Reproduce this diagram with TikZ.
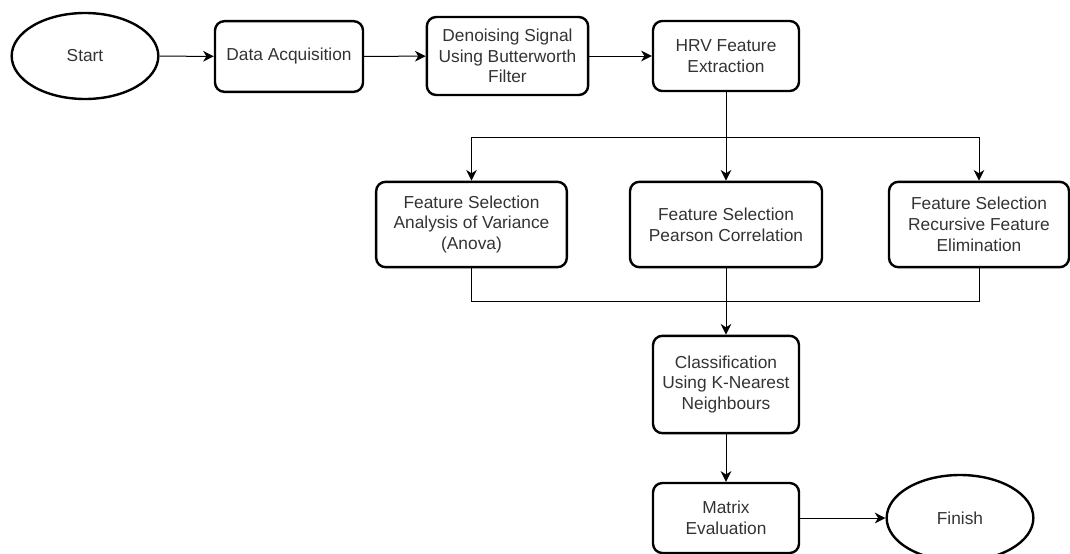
\documentclass[tikz,border=0pt]{standalone}
\usepackage{fontspec}
\setmainfont{Liberation Sans}
\usetikzlibrary{shapes.geometric,arrows.meta}
\definecolor{txtgray}{RGB}{51,51,51}

\tikzset{
	stepbox/.style={rectangle, rounded corners=7pt, draw, line width=1.8pt, align=center, text=txtgray, font=\fontsize{13}{15.6}\selectfont},
	endpoint/.style={ellipse, draw, line width=1.8pt, align=center, text=txtgray, font=\fontsize{13}{15.6}\selectfont, minimum width=110pt, minimum height=64.5pt},
	flow/.style={line width=0.75pt, -{Stealth[length=8pt, width=8pt, inset=2.5pt]}},
	link/.style={line width=0.75pt}
}

\begin{document}
\begin{tikzpicture}[x=0.75pt, y=-0.75pt]
			\useasboundingbox (0, 0) rectangle (1070, 553);
			% top row
			\draw (85, 56) node [endpoint] (start) {Start};
			\draw (289, 56.5) node [stepbox, minimum width=111pt, minimum height=53pt] (data) {Data Acquisition};
			\draw (507.5, 56) node [stepbox, minimum width=121pt, minimum height=58.5pt] (denoise) {Denoising Signal\\Using Butterworth\\Filter};
			\draw (726, 56) node [stepbox, minimum width=109.5pt, minimum height=52.5pt] (hrv) {HRV Feature\\Extraction};
			% feature selection
			\draw (471.5, 224.5) node [stepbox, minimum width=143pt, minimum height=64pt] (anova) {Feature Selection\\Analysis of Variance\\(Anova)};
			\draw (726, 224.5) node [stepbox, minimum width=144pt, minimum height=64pt] (pearson) {Feature Selection\\Pearson Correlation};
			\draw (979, 224.5) node [stepbox, minimum width=135pt, minimum height=64pt] (rfe) {Feature Selection\\Recursive Feature\\Elimination};
			% classification and evaluation
			\draw (726, 384.5) node [stepbox, minimum width=109.5pt, minimum height=73pt] (knn) {Classification\\Using K-Nearest\\Neighbours};
			\draw (726, 518) node [stepbox, minimum width=109.5pt, minimum height=52.5pt] (matrix) {Matrix\\Evaluation};
			\draw (960, 518) node [endpoint] (finish) {Finish};
			\coordinate (split) at (726, 137);
			\coordinate (join) at (726, 301);
			\path [flow] (start) edge (data);
			\path [flow] (data) edge (denoise);
			\path [flow] (denoise) edge (hrv);
			\path [flow] (hrv) edge (pearson);
			\draw [flow] (split) -| (anova);
			\draw [flow] (split) -| (rfe);
			\draw [link] (anova) |- (join);
			\draw [link] (rfe) |- (join);
			\path [flow] (pearson) edge (knn);
			\path [flow] (knn) edge (matrix);
			\path [flow] (matrix) edge (finish);
		\end{tikzpicture}
\end{document}
